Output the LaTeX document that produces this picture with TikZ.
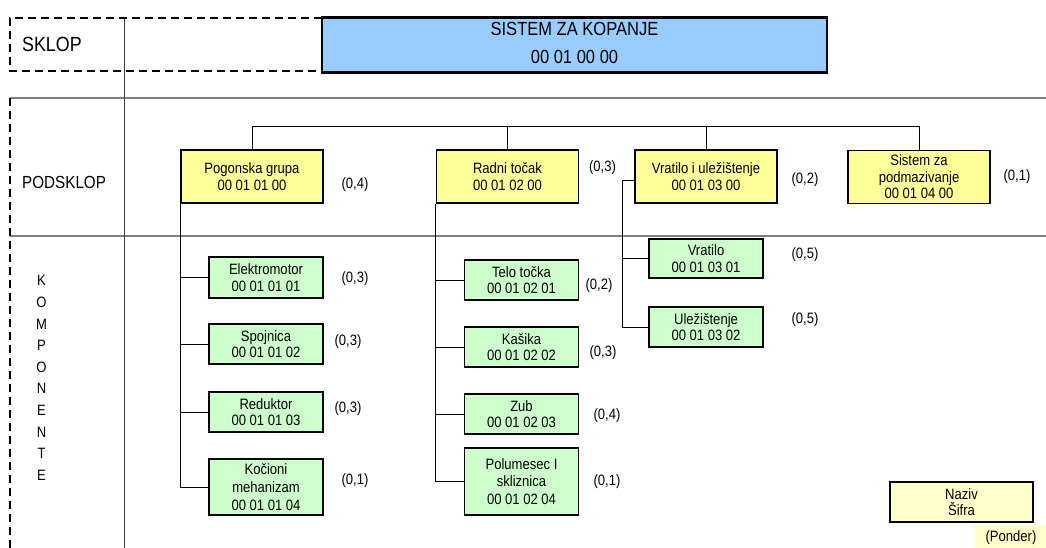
\documentclass[tikz,border=0pt]{standalone}
\usepackage{fontspec}
\setmainfont{Liberation Sans}[FakeStretch=0.87]
\definecolor{tblue}{HTML}{99CCFF}
\definecolor{tyellow}{HTML}{FFFF99}
\definecolor{tgreen}{HTML}{CCFFCC}
\definecolor{tlegend}{HTML}{FFFFCC}
\begin{document}
\begin{tikzpicture}[x=1pt,y=-1pt,
  txt/.style={font=\fontsize{15}{16.5}\selectfont, inner sep=0pt},
  boxbase/.style={draw=black, line width=1.4pt, inner sep=0pt, align=center,
     font=\fontsize{15}{16.5}\selectfont, anchor=center},
  ybox/.style={boxbase, fill=tyellow, minimum width=142pt, minimum height=53pt},
  gbox/.style={boxbase, fill=tgreen, line width=1.2pt, minimum width=114pt},
  conn/.style={draw=black, line width=0.9pt},
  sep/.style={draw=black!50, line width=1.6pt},
  dsh/.style={draw=black, line width=2pt, dash pattern=on 8pt off 5pt}
]
\useasboundingbox (0,0) rectangle (1046,548);

% frame lines
\draw[sep] (10,98) -- (1046,98);
\draw[sep] (10,236) -- (1046,236);
\draw[draw=black!75, line width=0.8pt] (124,18) -- (124,548);
\draw[dsh] (322,18) -- (10,18) -- (10,71) -- (322,71);
\draw[dsh] (10,98) -- (10,548);

% title
\node[boxbase, fill=tblue, line width=2.6pt, minimum width=505pt, minimum height=55pt] (sys) at (574.5,45) {};
\node[txt, align=center, font=\fontsize{19}{28}\selectfont] (systxt) at (574.5,43) {SISTEM ZA KOPANJE\\00 01 00 00};

% row labels
\node[txt, anchor=west, font=\fontsize{20.5}{22}\selectfont] (sklop) at (22,44) {SKLOP};
\node[txt, anchor=west, font=\fontsize{17.5}{18}\selectfont] (podsklop) at (22,182) {PODSKLOP};
\node[txt, align=center, font=\fontsize{15}{21.6}\selectfont] (komp) at (41.5,378)
  {K\\O\\M\\P\\O\\N\\E\\N\\T\\E};

% subassemblies
\node[ybox] (pog) at (252,176.5) {Pogonska grupa\\00 01 01 00};
\node[ybox] (rad) at (507.5,176.5) {Radni točak\\00 01 02 00};
\node[ybox] (vrt) at (706,176.5) {Vratilo i uležištenje\\00 01 03 00};
\node[ybox] (pod) at (919,177) {Sistem za\\podmazivanje\\00 01 04 00};

% components
\node[gbox, minimum height=41pt] (el) at (266,277.5) {Elektromotor\\00 01 01 01};
\node[gbox, minimum height=40pt] (sp) at (266,344) {Spojnica\\00 01 01 02};
\node[gbox, minimum height=40pt] (re) at (266,412) {Reduktor\\00 01 01 03};
\node[gbox, minimum height=56pt, font=\fontsize{15}{18}\selectfont] (ko) at (266,487) {Kočioni\\mehanizam\\00 01 01 04};

\node[gbox, minimum height=40pt] (te) at (521.5,280) {Telo točka\\00 01 02 01};
\node[gbox, minimum height=40pt] (ka) at (521.5,347) {Kašika\\00 01 02 02};
\node[gbox, minimum height=40pt] (zu) at (521.5,414) {Zub\\00 01 02 03};
\node[gbox, minimum height=67pt, font=\fontsize{15}{17.5}\selectfont] (po) at (521.5,481.5) {Polumesec I\\skliznica\\00 01 02 04};

\node[gbox, minimum height=39pt] (vr) at (706,258.5) {Vratilo\\00 01 03 01};
\node[gbox, minimum height=40pt] (ul) at (706,327) {Uležištenje\\00 01 03 02};

% weights
\node[txt] (w1) at (355,185) {(0,4)};
\node[txt] (w2) at (602.5,168) {(0,3)};
\node[txt] (w3) at (805,180) {(0,2)};
\node[txt] (w4) at (1017,177) {(0,1)};
\node[txt] (w5) at (355,279) {(0,3)};
\node[txt] (w6) at (348,342) {(0,3)};
\node[txt] (w7) at (348,409) {(0,3)};
\node[txt] (w8) at (355,481) {(0,1)};
\node[txt] (w9) at (599,286) {(0,2)};
\node[txt] (w10) at (603,353) {(0,3)};
\node[txt] (w11) at (607,416) {(0,4)};
\node[txt] (w12) at (607,482) {(0,1)};
\node[txt] (w13) at (805,255) {(0,5)};
\node[txt] (w14) at (805,320) {(0,5)};

% top bus
\coordinate (busL) at (252,126);
\coordinate (busR) at (919,126);
\draw[conn] (pog.north) -- (busL) -- (busR) -- (pod.north);
\draw[conn] (rad.north) -- (rad.north |- busL);
\draw[conn] (vrt.north) -- (vrt.north |- busL);

% branches Pogonska
\draw[conn] (pog.south west) -- (pog.south west |- ko.west) -- (ko.west);
\draw[conn] (pog.south west |- el.west) -- (el.west);
\draw[conn] (pog.south west |- sp.west) -- (sp.west);
\draw[conn] (pog.south west |- re.west) -- (re.west);

% branches Radni
\draw[conn] (rad.south west) -- (rad.south west |- po.west) -- (po.west);
\draw[conn] (rad.south west |- te.west) -- (te.west);
\draw[conn] (rad.south west |- ka.west) -- (ka.west);
\draw[conn] (rad.south west |- zu.west) -- (zu.west);

% branches Vratilo
\coordinate (vbus) at (622,180);
\draw[conn] (vrt.west |- vbus) -- (vbus) -- (vbus |- ul.west) -- (ul.west);
\draw[conn] (vbus |- vr.west) -- (vr.west);

% legend
\node[boxbase, fill=tlegend, line width=1.4pt, minimum width=143pt, minimum height=40pt] (leg) at (961.5,502) {Naziv\\Šifra};
\fill[tlegend] (974,525) rectangle (1046,548);
\node[txt] (pon) at (1011,538) {(Ponder)};
\end{tikzpicture}
\end{document}
